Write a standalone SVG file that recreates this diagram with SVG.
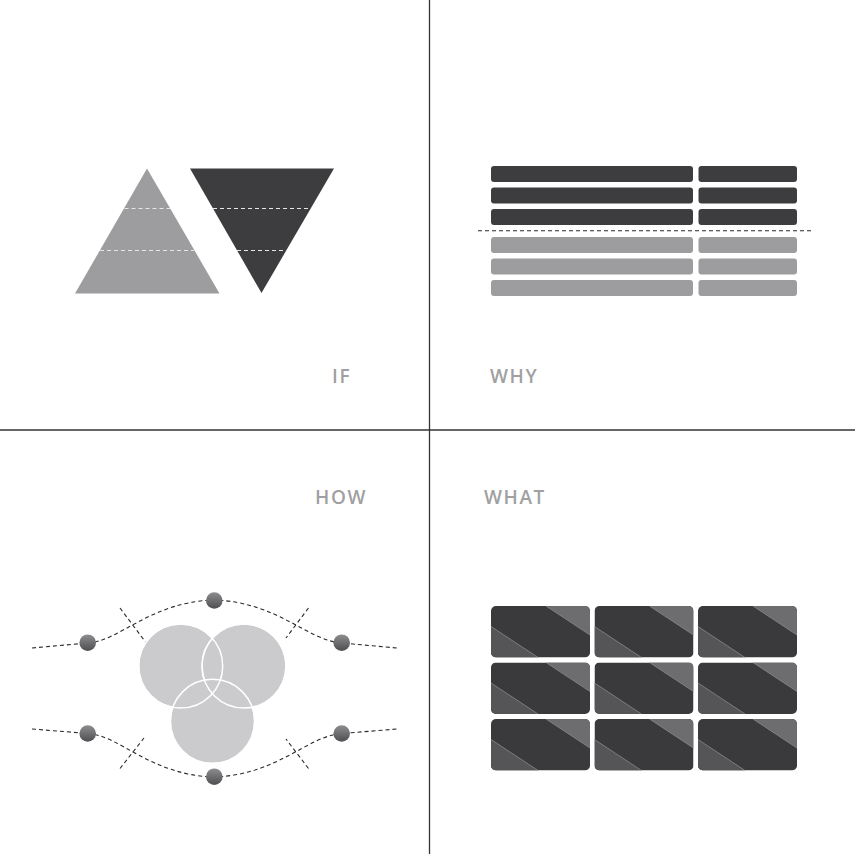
<svg xmlns="http://www.w3.org/2000/svg" width="855" height="854" viewBox="0 0 855 854">
<defs>
<style>
.lbl{font-family:"Open Sans","Liberation Sans",sans-serif;font-weight:600;font-size:19px;fill:#a0a0a2;letter-spacing:1.6px}
.axis{stroke:#333335;stroke-width:1.3;fill:none}
.tdash{stroke:#e6e6e6;stroke-width:1;stroke-dasharray:4 3;fill:none}
.dk{fill:#3d3d3f}
.lt{fill:#9d9d9f}
.ddash{stroke:#2a2a2a;stroke-width:1.1;stroke-dasharray:4 3;fill:none}
.venn{fill:#cbcbcd;stroke:#ffffff;stroke-width:1.5}
.ball{fill:url(#bg)}
.cbg{fill:#3a3a3c}
.ctr{fill:#6d6d6f}
.cbl{fill:#555557}
.cln{stroke:#8a8a8c;stroke-width:0.8;fill:none}
</style>
<linearGradient id="bg" x1="0" y1="0" x2="0" y2="1">
<stop offset="0" stop-color="#8e8e90"/>
<stop offset="1" stop-color="#4e4e50"/>
</linearGradient>
<clipPath id="cc"><rect x="0" y="0" width="99" height="51.5" rx="5"/></clipPath>
<g id="card">
<g clip-path="url(#cc)">
<rect class="cbg" x="0" y="0" width="99" height="51.5"/>
<polygon class="ctr" points="55,0 99,0 99,29"/>
<polygon class="cbl" points="0,20.5 47,51.5 0,51.5"/>
<line class="cln" x1="55" y1="0" x2="99" y2="29"/>
<line class="cln" x1="0" y1="20.5" x2="47" y2="51.5"/>
</g>
</g>
</defs>
<rect width="855" height="854" fill="#ffffff"/>

<g id="axes">
<line class="axis" x1="429.5" y1="0" x2="429.5" y2="854"/>
<line class="axis" x1="0" y1="430" x2="855" y2="430"/>
</g>

<g id="if-quadrant">
<polygon class="lt" points="147,168.5 219.5,293.5 75,293.5"/>
<polygon class="dk" points="190,168.5 334,168.5 261.5,293"/>
<line class="tdash" x1="124.5" y1="208.5" x2="170" y2="208.5"/>
<line class="tdash" x1="100" y1="250.5" x2="194" y2="250.5"/>
<line class="tdash" x1="213" y1="208.5" x2="311" y2="208.5"/>
<line class="tdash" x1="237" y1="250.5" x2="286" y2="250.5"/>
<text class="lbl" x="332" y="383">IF</text>
</g>

<g id="why-quadrant">
<rect class="dk" x="491" y="166" width="202" height="16" rx="3"/>
<rect class="dk" x="698.5" y="166" width="98.5" height="16" rx="3"/>
<rect class="dk" x="491" y="187.5" width="202" height="16" rx="3"/>
<rect class="dk" x="698.5" y="187.5" width="98.5" height="16" rx="3"/>
<rect class="dk" x="491" y="209" width="202" height="16" rx="3"/>
<rect class="dk" x="698.5" y="209" width="98.5" height="16" rx="3"/>
<line class="ddash" x1="478" y1="230.7" x2="812" y2="230.7"/>
<rect class="lt" x="491" y="237" width="202" height="16" rx="3"/>
<rect class="lt" x="698.5" y="237" width="98.5" height="16" rx="3"/>
<rect class="lt" x="491" y="258.5" width="202" height="16" rx="3"/>
<rect class="lt" x="698.5" y="258.5" width="98.5" height="16" rx="3"/>
<rect class="lt" x="491" y="280" width="202" height="16" rx="3"/>
<rect class="lt" x="698.5" y="280" width="98.5" height="16" rx="3"/>
<text class="lbl" x="490" y="383">WHY</text>
</g>

<g id="how-quadrant">
<g id="connectors">
<path class="ddash" d="M32,648 L88,643 C120,641 150,602 214,600 C278,602 308,641 342,643 L397,648"/>
<path class="ddash" d="M32,729 L88,733.5 C120,735.5 150,775 214,777 C278,775 308,735.5 342,733.5 L397,729"/>
<line class="ddash" x1="120" y1="608" x2="147" y2="644"/>
<line class="ddash" x1="308.5" y1="608" x2="286" y2="638"/>
<line class="ddash" x1="120" y1="768.5" x2="144" y2="738"/>
<line class="ddash" x1="308.5" y1="768.5" x2="286" y2="739"/>
</g>
<g id="venn">
<circle class="venn" cx="180.7" cy="666" r="42"/>
<circle class="venn" cx="244" cy="666" r="42"/>
<circle class="venn" cx="212.5" cy="721.3" r="42"/>
<circle cx="180.7" cy="666" r="42" fill="none" stroke="#fff" stroke-width="1.5"/>
<circle cx="244" cy="666" r="42" fill="none" stroke="#fff" stroke-width="1.5"/>
</g>
<g id="nodes">
<circle class="ball" cx="214.3" cy="600.5" r="8.3"/>
<circle class="ball" cx="87.7" cy="642.7" r="8.3"/>
<circle class="ball" cx="341.7" cy="642.7" r="8.3"/>
<circle class="ball" cx="87.7" cy="733.5" r="8.3"/>
<circle class="ball" cx="341.7" cy="733.5" r="8.3"/>
<circle class="ball" cx="214.3" cy="776.7" r="8.3"/>
</g>
<text class="lbl" x="315" y="504">HOW</text>
</g>

<g id="what-quadrant">
<use href="#card" x="491" y="606"/>
<use href="#card" x="594.5" y="606"/>
<use href="#card" x="698" y="606"/>
<use href="#card" x="491" y="662.5"/>
<use href="#card" x="594.5" y="662.5"/>
<use href="#card" x="698" y="662.5"/>
<use href="#card" x="491" y="719"/>
<use href="#card" x="594.5" y="719"/>
<use href="#card" x="698" y="719"/>
<text class="lbl" x="484" y="504">WHAT</text>
</g>
</svg>
